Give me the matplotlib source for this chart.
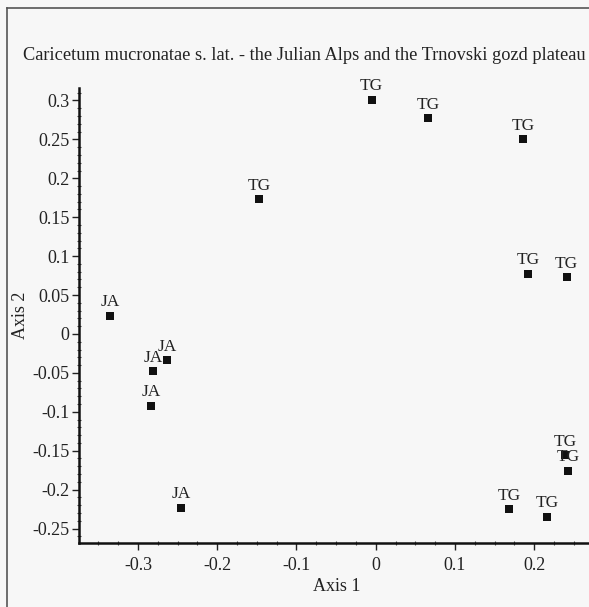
import matplotlib
matplotlib.use("Agg")
import matplotlib.pyplot as plt
from matplotlib.lines import Line2D
from matplotlib.ticker import FuncFormatter, MultipleLocator

plt.rcParams['font.family'] = ['Liberation Serif', 'DejaVu Serif']

title = "Caricetum mucronatae s. lat. - the Julian Alps and the Trnovski gozd plateau"

tg_x = [-0.005, 0.066, 0.186, -0.147, 0.192, 0.241, 0.239, 0.243, 0.168, 0.216]
tg_y = [0.301, 0.277, 0.250, 0.173, 0.077, 0.073, -0.156, -0.176, -0.225, -0.235]
ja_x = [-0.335, -0.263, -0.281, -0.284, -0.246]
ja_y = [0.023, -0.034, -0.048, -0.092, -0.223]

xticks = [-0.3, -0.2, -0.1, 0.0, 0.1, 0.2]
yticks = [-0.25, -0.2, -0.15, -0.1, -0.05, 0.0, 0.05, 0.1, 0.15, 0.2, 0.25, 0.3]

bg = '#f7f7f7'
fig = plt.figure(figsize=(5.89, 6.07), dpi=100, facecolor=bg)
ax = fig.add_axes([79/589, (607-543)/607, (589-79)/589, (543-88)/607])
ax.set_facecolor(bg)

ax.set_xlim(-0.3746, 0.2693)
ax.set_ylim(-0.2686, 0.316)

for xs, ys, lab in [(tg_x, tg_y, 'TG'), (ja_x, ja_y, 'JA')]:
    ax.scatter(xs, ys, marker='s', s=26, color='#111111', zorder=3, clip_on=False, linewidths=0)
    for x, y in zip(xs, ys):
        ax.annotate(lab, (x, y), xytext=(0, 4), textcoords='offset points',
                    ha='center', va='bottom', fontsize=12.5, color='#222222',
                    annotation_clip=False)

for s in ['top', 'right']:
    ax.spines[s].set_visible(False)
for s in ['left', 'bottom']:
    ax.spines[s].set_linewidth(1.8)
    ax.spines[s].set_color('#111111')

ax.set_xticks(xticks)
ax.set_yticks(yticks)
fmt = FuncFormatter(lambda v, p: f"{v:g}" if abs(v) > 1e-9 else "0")
ax.xaxis.set_major_formatter(fmt)
ax.yaxis.set_major_formatter(fmt)
ax.xaxis.set_minor_locator(MultipleLocator(0.025))
ax.yaxis.set_minor_locator(MultipleLocator(0.01))
ax.tick_params(which='major', direction='out', length=5, width=1, labelsize=13,
               colors='#222222')
ax.tick_params(axis='y', which='major', pad=2)
ax.tick_params(axis='x', which='major', pad=5)
ax.tick_params(which='minor', direction='inout', length=3, width=0.8, colors='#444444')

ax.set_xlabel('Axis 1', fontsize=13, color='#222222')
ax.set_ylabel('Axis 2', fontsize=13, color='#222222')
ax.xaxis.set_label_coords(0.505, -0.096)
ax.yaxis.set_label_coords(-0.114, 0.5)
ax.xaxis.label.set_va('center')
ax.yaxis.label.set_va('center')

fig.text(304.5/589, (607-55)/607, title, ha='center', va='center', fontsize=13.2, color='#222222')

fig.add_artist(Line2D([7/589, 7/589], [0, (607-8)/607], transform=fig.transFigure,
                      color='#555555', linewidth=1.2))
fig.add_artist(Line2D([7/589, 1], [(607-8)/607, (607-8)/607], transform=fig.transFigure,
                      color='#555555', linewidth=1.2))

fig.savefig('out.png', dpi=100, facecolor=bg)
